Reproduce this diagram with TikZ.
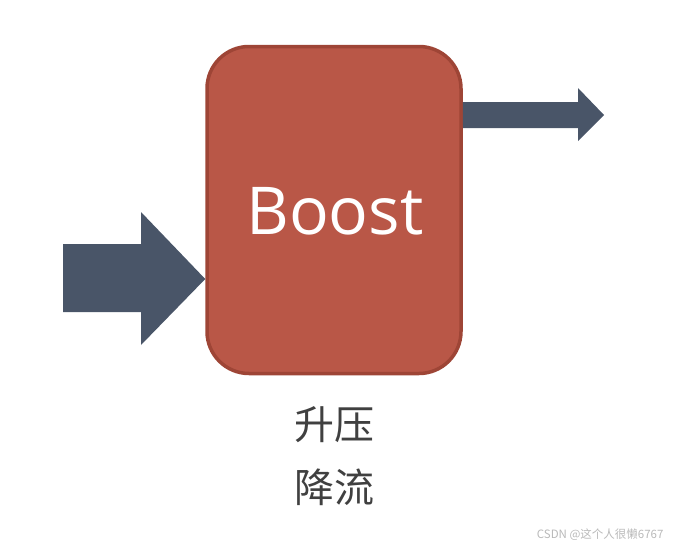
\documentclass[tikz,border=0pt]{standalone}
\usepackage{fontspec}
\setmainfont{Open Sans}
\newfontfamily\cjk{Noto Sans CJK SC}
\usetikzlibrary{positioning}
\definecolor{boxred}{HTML}{B95747}
\definecolor{boxedge}{HTML}{9E4536}
\definecolor{arrowblue}{HTML}{495568}
\definecolor{labelgray}{HTML}{404040}
\tikzset{
    blockbox/.style={draw=boxedge, line width=3.5pt, fill=boxred, rounded corners=42pt,
        minimum width=254pt, minimum height=327pt, inner sep=0pt},
    blockarrow/.style={fill=arrowblue, draw=none},
    caption/.style={font=\cjk\fontsize{40}{63}\selectfont, text=labelgray, align=center}
}
\begin{document}
\begin{tikzpicture}[x=1pt, y=-1pt]
    \useasboundingbox (0,0) rectangle (678,549);
    \node (boost) [blockbox] at (334,210) {};
    \node (name) [text=white, font=\fontsize{66}{72}\selectfont] at (335,211) {Boost};
    \node (label) [caption, below=28pt of boost] {升压\\降流};
    % input arrow
    \fill[blockarrow] (63,244) -- (141,244) -- (141,212) -- (boost.west |- 0,279)
        -- (141,345) -- (141,312) -- (63,312) -- cycle;
    % output arrow
    \fill[blockarrow] (boost.east |- 0,102) -- (578,102) -- (578,88) -- (604,115)
        -- (578,141) -- (578,128) -- (boost.east |- 0,128) -- cycle;
    \node (mark) [text=gray!55, font=\cjk\fontsize{11.5}{12}\selectfont, anchor=east] at (667,535) {CSDN @这个人很懒6767};
\end{tikzpicture}
\end{document}
